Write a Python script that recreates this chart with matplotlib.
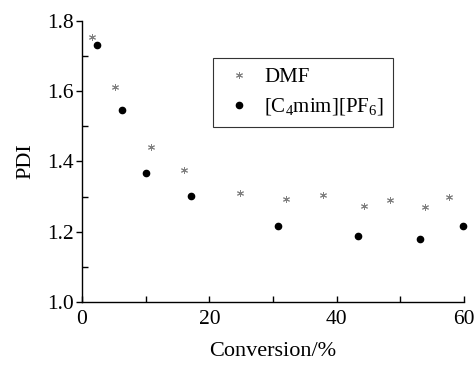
import numpy as np
import matplotlib
matplotlib.use('Agg')
from matplotlib import pyplot as plt
from matplotlib.ticker import MultipleLocator

plt.rcParams['font.family'] = ['Liberation Serif', 'DejaVu Serif']
plt.rcParams['mathtext.fontset'] = 'custom'
plt.rcParams['mathtext.rm'] = 'Liberation Serif'
plt.rcParams['mathtext.it'] = 'Liberation Serif:italic'
plt.rcParams['mathtext.default'] = 'regular'

# DMF series
dmf_conv = [1.5, 5.1, 10.8, 16.0, 24.8, 32.0, 37.9, 44.3, 48.4, 53.8, 57.7]
dmf_pdi = [1.754, 1.613, 1.442, 1.376, 1.311, 1.293, 1.305, 1.274, 1.291, 1.270, 1.298]

# ionic liquid series
il_conv = [2.4, 6.2, 10.1, 17.1, 30.8, 43.4, 53.1, 59.8]
il_pdi = [1.731, 1.545, 1.366, 1.301, 1.215, 1.188, 1.180, 1.217]

fig = plt.figure(figsize=(4.77, 3.66), dpi=100)
ax = fig.add_axes([0.172, 0.175, 0.801, 0.768])

ax.plot(dmf_conv, dmf_pdi, linestyle='none', marker=(6, 2, 0), ms=5,
        mew=0.7, color='#808080', label='DMF', clip_on=False)
ax.plot(il_conv, il_pdi, linestyle='none', marker='o', ms=4.5,
        color='k', label='[C$_4$mim][PF$_6$]', clip_on=False)

ax.set_xlim(0, 60)
ax.set_ylim(1.0, 1.8)
ax.xaxis.set_major_locator(MultipleLocator(20))
ax.xaxis.set_minor_locator(MultipleLocator(10))
ax.yaxis.set_minor_locator(MultipleLocator(0.1))
ax.set_yticks([1.0, 1.2, 1.4, 1.6, 1.8])
ax.set_yticklabels(['1.0', '1.2', '1.4', '1.6', '1.8'])

ax.spines['top'].set_visible(False)
ax.spines['right'].set_visible(False)
ax.spines['left'].set_linewidth(1.0)
ax.spines['bottom'].set_linewidth(1.0)

ax.tick_params(axis='x', which='both', direction='in', length=4, width=1,
               labelsize=15.5, pad=6)
ax.tick_params(axis='y', which='major', direction='out', length=4, width=1,
               labelsize=15.5, pad=2)
ax.tick_params(axis='y', which='minor', direction='in', length=4, width=1)

ax.set_xlabel('Conversion/%', fontsize=16, labelpad=9)
ax.set_ylabel('PDI', fontsize=16, labelpad=8)

leg = ax.legend(loc='upper left', bbox_to_anchor=(213 / 477, 1 - 58 / 366),
                bbox_transform=fig.transFigure, fontsize=15, frameon=True,
                fancybox=False, edgecolor='#333333', framealpha=1,
                handletextpad=0.4, borderpad=0.45, labelspacing=0.45,
                handlelength=1.6, borderaxespad=0)
leg.get_frame().set_linewidth(0.8)

plt.savefig('out.png', dpi=100)
